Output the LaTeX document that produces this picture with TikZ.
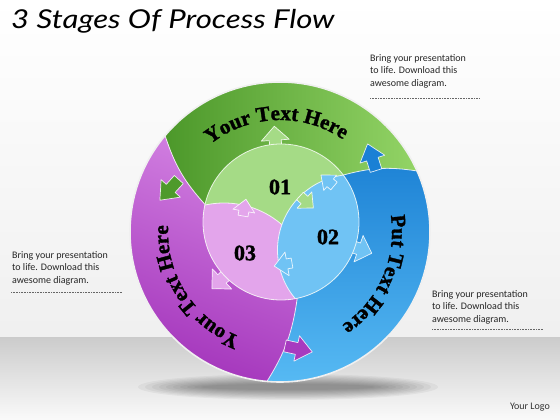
\documentclass[tikz,border=0pt]{standalone}
\usepackage{fontspec}
\setmainfont{Liberation Serif}
\newfontfamily\calfont{Carlito}
\newfontfamily\titlefont{Lato}
\newfontfamily\heavyfont{Liberation Serif}[UprightFont=* Bold, FakeBold=1.5]
\usetikzlibrary{calc,decorations.text}
\definecolor{gdark}{HTML}{4C982A}
\definecolor{glight}{HTML}{93D466}
\definecolor{garrow}{HTML}{4E9A2C}
\definecolor{bdark}{HTML}{1F84D6}
\definecolor{blight}{HTML}{58BBF4}
\definecolor{barrow}{HTML}{1A80D5}
\definecolor{pdark}{HTML}{A334BB}
\definecolor{plight}{HTML}{D382E2}
\definecolor{parrow}{HTML}{A73BBF}
\definecolor{ginner}{HTML}{A5DB86}
\definecolor{binner}{HTML}{70C3F4}
\definecolor{pinner}{HTML}{E3A5EB}
\newcommand\ArrowAt[7]{\filldraw[fill=#1, draw=white, draw opacity=0.85, line width=0.7pt, line join=round, shift={#2}, rotate=#3] (0,-#6) -- (#4,-#6) -- (#4,-#7) -- ({#4+#5},0) -- (#4,#7) -- (#4,#6) -- (0,#6) -- cycle;}
\tikzset{
  callout/.style={anchor=north west, align=left, inner sep=0pt, font=\calfont\fontsize{10}{12.5}\selectfont, text=black!85},
  dotline/.style={black!60, line width=0.4pt, dash pattern=on 0.8pt off 0.8pt},
  edge/.style={white, line width=0.8pt, opacity=0.8},
  numtext/.style={font=\heavyfont\fontsize{22}{22}\selectfont, text=black}
}
\begin{document}
\begin{tikzpicture}[x=1pt,y=1pt]
\useasboundingbox (0,0) rectangle (560,420);
% background and floor
\shade[top color=white, bottom color=black!6] (0,82) rectangle (560,420);
\shade[top color=black!20, bottom color=black!2] (0,0) rectangle (560,82);
% shadow
\foreach \k in {0,...,9}
  \fill[black, opacity=0.045] (288,33) ellipse ({150-7*\k} and {13-1.1*\k});

\coordinate (C0) at (280,188);
\coordinate (C1) at (281,198);
\coordinate (IGB) at ($(C1)+(37:78)$);
\coordinate (IBP) at ($(C1)+(-78:78)$);
\coordinate (IPG) at ($(C1)+(167:78)$);
\coordinate (OGB) at ($(C0)+(24:150)$);
\coordinate (OBP) at ($(C0)+(-95:150)$);
\coordinate (OPG) at ($(C0)+(140:150)$);

% outer ring segments
\shade[left color=gdark, right color=glight]
  (C1) -- (IGB) to[bend left=12] (OGB) arc[start angle=24, end angle=140, radius=150]
  to[bend right=12] (IPG) -- cycle;
\shade[top color=bdark, bottom color=blight]
  (C1) -- (IBP) to[bend left=12] (OBP) arc[start angle=-95, end angle=24, radius=150]
  to[bend right=12] (IGB) -- cycle;
\shade[top color=plight, bottom color=pdark, shading angle=-20]
  (C1) -- (IPG) to[bend left=12] (OPG) arc[start angle=140, end angle=265, radius=150]
  to[bend right=12] (IBP) -- cycle;
\draw[edge] (IGB) to[bend left=12] (OGB);
\draw[edge] (IBP) to[bend left=12] (OBP);
\draw[edge] (IPG) to[bend left=12] (OPG);
\draw[white!88!gray, line width=1.6pt] (C0) circle[radius=150];

% ring arrows
\ArrowAt{barrow}{($(C0)+(32.6:114)$)}{107.6}{12}{16}{6}{13}
\ArrowAt{garrow}{($(C0)+(152.6:114)$)}{227.6}{12}{16}{6}{13}
\ArrowAt{parrow}{($(C0)+(-87.5:114)$)}{-12.5}{12}{16}{6}{13}

% inner outward arrows (stems hidden under the disk)
\ArrowAt{ginner}{($(C1)+(94:66)$)}{94}{16}{14}{6}{14}
\ArrowAt{binner}{($(C1)+(-19:66)$)}{-19}{16}{14}{6}{14}
\ArrowAt{pinner}{($(C1)+(-136:66)$)}{-136}{16}{14}{6}{14}

% inner disk
\fill[ginner] (C1) circle[radius=78];
\begin{scope}
  \clip (C1) circle[radius=78];
  \fill[pinner] (224,129) circle[radius=88];
  \draw[edge] (224,129) circle[radius=88];
  \fill[binner] (353,170) circle[radius=75.5];
  \draw[edge] (353,170) circle[radius=75.5];
\end{scope}
\draw[edge] (C1) circle[radius=78];

% inner internal arrows
\ArrowAt{pinner}{(243,204)}{80}{5}{12}{5}{11}
\ArrowAt{ginner}{(300,224)}{-42}{6}{12}{5}{11}
\ArrowAt{binner}{(334,234)}{140}{5}{12}{5}{10}
\ArrowAt{binner}{(292,157)}{190}{5}{13}{5}{12}

% numbers
\node[numtext] (n1) at (280,233) {01};
\node[numtext] (n2) at (328,183) {02};
\node[numtext] (n3) at (245,167) {03};

% ring labels
\path[decorate, decoration={text along path, text align=center,
  text={|\heavyfont\fontsize{21}{21}\selectfont|Your Text Here}}]
  ($(C0)+(147:112)$) arc[start angle=147, end angle=37, radius=112];
\path[decorate, decoration={text along path, text align=center,
  text={|\heavyfont\fontsize{21}{21}\selectfont|Put Text Here}}]
  ($(C0)+(30:112)$) arc[start angle=30, end angle=-78, radius=112];
\path[decorate, decoration={text along path, text align=center,
  text={|\heavyfont\fontsize{21}{21}\selectfont|Your Text Here}}]
  ($(C0)+(268:112)$) arc[start angle=268, end angle=158, radius=112];

% title
\node[anchor=west, inner sep=0pt, font=\titlefont\itshape\fontsize{26}{26}\selectfont] (title) at (11,399) {\scalebox{1.2}[1]{3 Stages Of Process Flow}};

% callouts
\node[callout] (c1) at (370,366) {Bring your presentation\\to life. Download this\\awesome diagram.};
\draw[dotline] (370,322) -- (480,322);
\node[callout] (c2) at (12,169) {Bring your presentation\\to life. Download this\\awesome diagram.};
\draw[dotline] (11,128) -- (122,128);
\node[callout] (c3) at (432,130) {Bring your presentation\\to life. Download this\\awesome diagram.};
\draw[dotline] (432,91) -- (543,91);

% logo
\node[anchor=east, inner sep=0pt, font=\calfont\fontsize{10}{12}\selectfont, text=black!80] (logo) at (550,13) {Your Logo};
\end{tikzpicture}
\end{document}
